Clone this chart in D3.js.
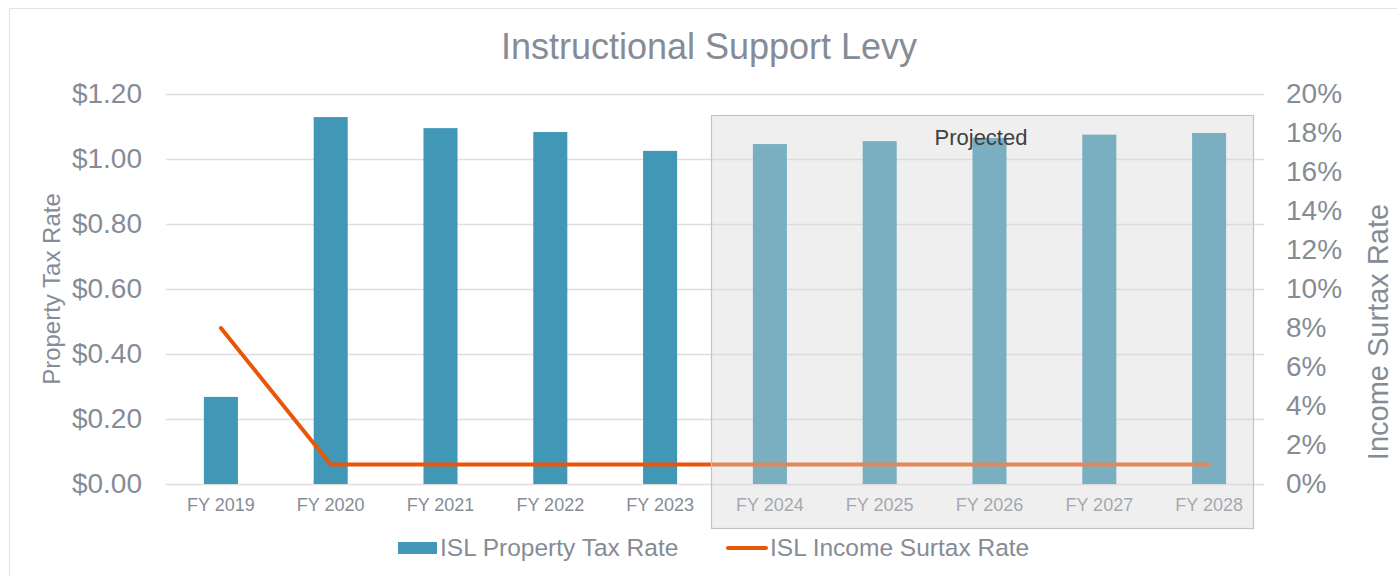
<!DOCTYPE html>
<html>
<head>
<meta charset="utf-8">
<script src="https://cdn.jsdelivr.net/npm/d3@7"></script>
<style>
  body { margin: 0; background: #fff; }
  svg { display: block; font-family: "Liberation Sans", Arial, sans-serif; }
</style>
</head>
<body>
<div id="chart"></div>
<script>
// chart data
var years = ["FY 2019", "FY 2020", "FY 2021", "FY 2022", "FY 2023",
             "FY 2024", "FY 2025", "FY 2026", "FY 2027", "FY 2028"];
var propertyTax = [0.268, 1.129, 1.095, 1.083, 1.025, 1.046, 1.055, 1.065, 1.075, 1.080];
var incomeSurtax = [0.08, 0.01, 0.01, 0.01, 0.01, 0.01, 0.01, 0.01, 0.01, 0.01];
var leftTicks = [0, 0.2, 0.4, 0.6, 0.8, 1.0, 1.2];
var rightTicks = [0, 0.02, 0.04, 0.06, 0.08, 0.10, 0.12, 0.14, 0.16, 0.18, 0.20];
var projectedYears = ["FY 2024", "FY 2028"];

var W = 1397, H = 576;
var margin = { top: 94, right: 133, bottom: 92, left: 166 },
    width = W - margin.left - margin.right,
    height = H - margin.top - margin.bottom;

var textGray = "#868c95";
var barColor = "#4097b6";
var lineColor = "#e8560a";
var gridColor = "#dedede";

var svg = d3.select("#chart").append("svg")
  .attr("width", W)
  .attr("height", H);

// outer frame
svg.append("rect")
  .attr("x", 9.5).attr("y", 8.5)
  .attr("width", W + 20).attr("height", H)
  .attr("fill", "none")
  .attr("stroke", "#e3e3e3");

var g = svg.append("g")
  .attr("transform", "translate(" + margin.left + "," + margin.top + ")");

var x = d3.scaleBand().domain(years).range([0, width]).paddingInner(0.69).paddingOuter(0.345);
var y = d3.scaleLinear().domain([0, 1.2]).range([height, 0]);
var y2 = d3.scaleLinear().domain([0, 0.2]).range([height, 0]);

// gridlines
g.append("g")
  .selectAll("line")
  .data(leftTicks)
  .enter().append("line")
  .attr("x1", 0).attr("x2", width)
  .attr("y1", function (d) { return Math.round(y(d)) + 0.5; })
  .attr("y2", function (d) { return Math.round(y(d)) + 0.5; })
  .attr("stroke", gridColor)
  .attr("stroke-width", 1.5);

// left axis
var yAxis = g.append("g")
  .call(d3.axisLeft(y).tickValues(leftTicks).tickSize(0).tickPadding(24)
    .tickFormat(function (d) { return "$" + d3.format(".2f")(d); }));
yAxis.select(".domain").remove();
yAxis.selectAll("text").attr("fill", textGray).style("font-size", "28px");

// right axis
var y2Axis = g.append("g")
  .attr("transform", "translate(" + width + ",0)")
  .call(d3.axisRight(y2).tickValues(rightTicks).tickSize(0).tickPadding(22)
    .tickFormat(d3.format(".0%")));
y2Axis.select(".domain").remove();
y2Axis.selectAll("text").attr("fill", textGray).style("font-size", "28px");

// x axis
var xAxis = g.append("g")
  .attr("transform", "translate(0," + height + ")")
  .call(d3.axisBottom(x).tickSize(0).tickPadding(14));
xAxis.select(".domain").remove();
xAxis.selectAll("text").attr("fill", textGray).style("font-size", "18px");

// bars
g.append("g")
  .selectAll("rect")
  .data(years)
  .enter().append("rect")
  .attr("x", function (d) { return x(d); })
  .attr("width", x.bandwidth())
  .attr("y", function (d, i) { return y(propertyTax[i]); })
  .attr("height", function (d, i) { return height - y(propertyTax[i]); })
  .attr("fill", barColor);

// line
var line = d3.line()
  .x(function (d, i) { return x(years[i]) + x.bandwidth() / 2; })
  .y(function (d) { return y2(d); });
g.append("path")
  .datum(incomeSurtax)
  .attr("d", line)
  .attr("fill", "none")
  .attr("stroke", lineColor)
  .attr("stroke-width", 4)
  .attr("stroke-linecap", "round")
  .attr("stroke-linejoin", "round");

// projected overlay
var step = x.step();
var px0 = x(projectedYears[0]) - (step - x.bandwidth()) / 2 - 4;
var px1 = x(projectedYears[1]) + x.bandwidth() + (step - x.bandwidth()) / 2 - 11;
g.append("rect")
  .attr("x", Math.round(px0) + 0.5)
  .attr("y", 21.5)
  .attr("width", Math.round(px1 - px0))
  .attr("height", height + 44 - 21)
  .attr("fill", "rgba(214,214,214,0.39)")
  .attr("stroke", "#c4c4c4")
  .attr("stroke-width", 1.2);

g.append("text")
  .attr("x", (px0 + px1) / 2 - 1)
  .attr("y", 51)
  .attr("text-anchor", "middle")
  .attr("fill", "#404040")
  .style("font-size", "22px")
  .text("Projected");

// title
svg.append("text")
  .attr("x", 709)
  .attr("y", 59)
  .attr("text-anchor", "middle")
  .attr("fill", textGray)
  .style("font-size", "36px")
  .text("Instructional Support Levy");

// axis titles
svg.append("text")
  .attr("transform", "translate(60,289) rotate(-90)")
  .attr("text-anchor", "middle")
  .attr("fill", textGray)
  .style("font-size", "24px")
  .text("Property Tax Rate");

svg.append("text")
  .attr("transform", "translate(1388,332) rotate(-90)")
  .attr("text-anchor", "middle")
  .attr("fill", textGray)
  .style("font-size", "29px")
  .text("Income Surtax Rate");

// legend
var legend = svg.append("g").attr("transform", "translate(0,548)");
legend.append("rect")
  .attr("x", 398).attr("y", -6)
  .attr("width", 39).attr("height", 12)
  .attr("fill", barColor);
legend.append("text")
  .attr("x", 440).attr("y", 8)
  .attr("fill", textGray)
  .style("font-size", "24.5px")
  .text("ISL Property Tax Rate");
legend.append("line")
  .attr("x1", 728).attr("x2", 766)
  .attr("y1", 0).attr("y2", 0)
  .attr("stroke", lineColor)
  .attr("stroke-width", 4)
  .attr("stroke-linecap", "round");
legend.append("text")
  .attr("x", 770).attr("y", 8)
  .attr("fill", textGray)
  .style("font-size", "24.5px")
  .text("ISL Income Surtax Rate");
</script>
</body>
</html>
